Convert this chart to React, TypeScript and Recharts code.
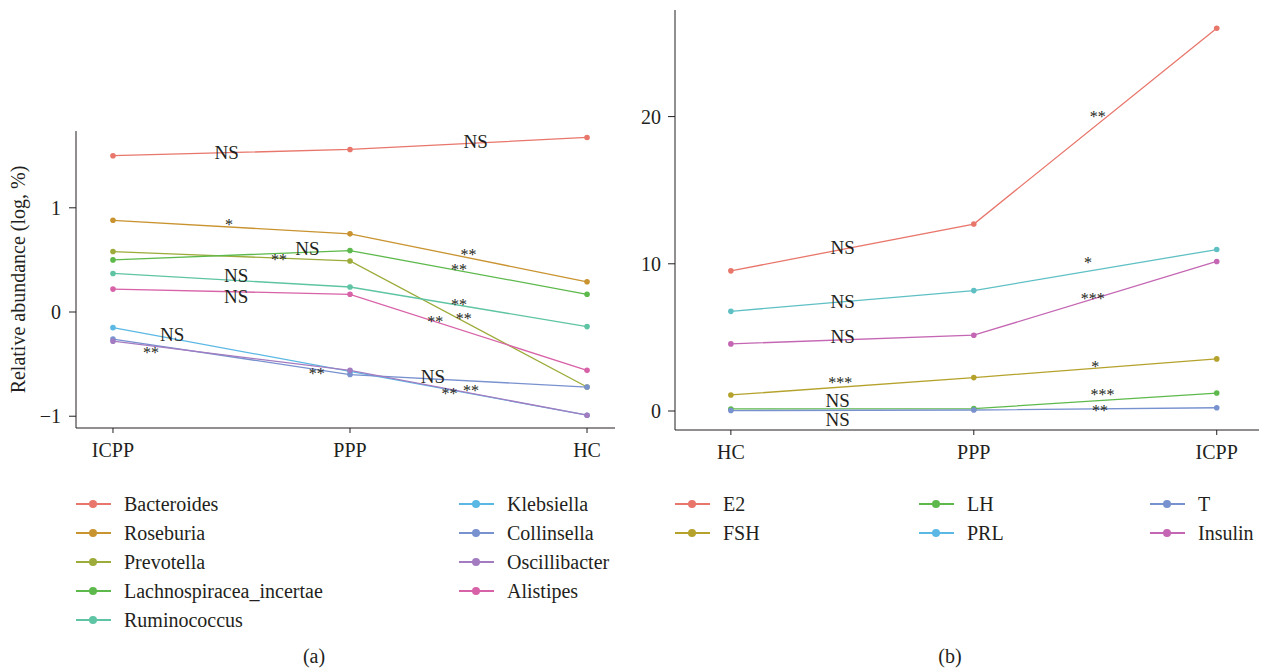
import React from 'react'
import { LineChart, Line, XAxis, YAxis, ReferenceDot } from 'recharts'

// panel (a): gut genera, relative abundance (log, %)
const groupsA = ['ICPP', 'PPP', 'HC']
const namesA = [
  'Bacteroides', 'Roseburia', 'Prevotella', 'Lachnospiracea_incertae', 'Ruminococcus',
  'Klebsiella', 'Collinsella', 'Oscillibacter', 'Alistipes',
]
const bacteroides = [1.5, 1.56, 1.675]
const roseburia = [0.88, 0.75, 0.29]
const prevotella = [0.58, 0.49, -0.72]
const lachnospiracea = [0.5, 0.59, 0.17]
const ruminococcus = [0.37, 0.24, -0.14]
const klebsiella = [-0.15, -0.57, -0.99]
const collinsella = [-0.26, -0.6, -0.72]
const oscillibacter = [-0.28, -0.56, -0.99]
const alistipes = [0.22, 0.17, -0.56]
const valuesA = [bacteroides, roseburia, prevotella, lachnospiracea, ruminococcus, klebsiella, collinsella, oscillibacter, alistipes]
const colorsA = ['#e8766b', '#c99330', '#9dab3a', '#5db94b', '#5ec4a3', '#5bb8e4', '#7891cf', '#a37bc0', '#d862a8']

// significance marks, placed between groups (x in group index units)
const sigA = [
  { x: 0.48, y: 1.53, t: 'NS' }, { x: 1.53, y: 1.63, t: 'NS' },
  { x: 0.49, y: 0.86, t: '*' }, { x: 0.82, y: 0.61, t: 'NS' }, { x: 0.7, y: 0.53, t: '**' },
  { x: 0.52, y: 0.35, t: 'NS' }, { x: 0.52, y: 0.15, t: 'NS' },
  { x: 0.25, y: -0.22, t: 'NS' }, { x: 0.16, y: -0.36, t: '**' }, { x: 0.86, y: -0.57, t: '**' },
  { x: 1.5, y: 0.58, t: '**' }, { x: 1.46, y: 0.43, t: '**' }, { x: 1.46, y: 0.1, t: '**' },
  { x: 1.36, y: -0.07, t: '**' }, { x: 1.48, y: -0.04, t: '**' },
  { x: 1.35, y: -0.62, t: 'NS' }, { x: 1.42, y: -0.76, t: '**' }, { x: 1.51, y: -0.73, t: '**' },
]

// panel (b): hormones
const groupsB = ['HC', 'PPP', 'ICPP']
const namesB = ['E2', 'FSH', 'LH', 'PRL', 'T', 'Insulin']
const e2 = [9.52, 12.7, 26.0]
const fsh = [1.09, 2.27, 3.54]
const lh = [0.14, 0.16, 1.22]
const prl = [6.77, 8.18, 10.97]
const testo = [0.03, 0.07, 0.22]
const insulin = [4.56, 5.15, 10.16]
const valuesB = [e2, fsh, lh, prl, testo, insulin]
const colorsB = ['#e8766b', '#b5a22c', '#5db94b', '#5fc0c4', '#7891cf', '#c466b3']
const legendColorsB = ['#e8766b', '#b5a22c', '#5db94b', '#5bb8e4', '#7891cf', '#c466b3']

const sigB = [
  { x: 0.46, y: 11.07, t: 'NS' }, { x: 0.46, y: 7.4, t: 'NS' }, { x: 0.46, y: 5.03, t: 'NS' },
  { x: 0.45, y: 2.12, t: '***' }, { x: 0.44, y: 0.7, t: 'NS' }, { x: 0.44, y: -0.6, t: 'NS' },
  { x: 1.51, y: 20.2, t: '**' }, { x: 1.47, y: 10.25, t: '*' }, { x: 1.49, y: 7.8, t: '***' },
  { x: 1.5, y: 3.2, t: '*' }, { x: 1.53, y: 1.32, t: '***' }, { x: 1.52, y: 0.2, t: '**' },
]

const FONT = '"Liberation Serif", "DejaVu Serif", serif'
const INK = '#231f20'

function buildRows(groups: string[], names: string[], values: number[][]) {
  return groups.map((_, i) => {
    const row: Record<string, number> = { x: i }
    names.forEach((n, k) => { row[n] = values[k][i] })
    return row
  })
}

const rowsA = buildRows(groupsA, namesA, valuesA)
const rowsB = buildRows(groupsB, namesB, valuesB)

const minus = (v: number) => (v < 0 ? '\u2212' + Math.abs(v) : String(v))

function SigMark(props: any) {
  const { cx, cy, t } = props
  const isNS = t === 'NS'
  return (
    <text
      x={cx}
      y={cy + (isNS ? 6.3 : 8)}
      textAnchor="middle"
      fontFamily={FONT}
      fontSize={isNS ? 19 : 16}
      fill={INK}
    >
      {t}
    </text>
  )
}

const tickStyle = { fontFamily: FONT, fontSize: 20, fill: INK }

function LegendItem({ name, color, left, top }: { name: string; color: string; left: number; top: number }) {
  return (
    <div style={{ position: 'absolute', left, top: top - 12, height: 24, display: 'flex', alignItems: 'center' }}>
      <svg width={36} height={24} style={{ display: 'block' }}>
        <line x1={0} y1={12} x2={35} y2={12} stroke={color} strokeWidth={1.8} />
        <circle cx={17} cy={12} r={4} fill={color} />
      </svg>
      <span style={{ marginLeft: 12, fontFamily: FONT, fontSize: 20, color: INK, whiteSpace: 'nowrap' }}>{name}</span>
    </div>
  )
}

export default function App() {
  return (
    <div style={{ position: 'absolute', left: 0, top: 0, width: 1269, height: 671, background: '#fff', overflow: 'hidden' }}>
      <div style={{ position: 'absolute', left: 0, top: 0 }}>
        <LineChart width={640} height={480} data={rowsA} margin={{ top: 131, right: 25, bottom: 12, left: 0 }}>
          <XAxis
            dataKey="x"
            type="number"
            domain={[-0.156, 2.118]}
            ticks={[0, 1, 2]}
            tickFormatter={(i: number) => groupsA[i]}
            height={40}
            tick={tickStyle}
            tickSize={5}
            tickMargin={10}
            stroke={INK}
            allowDataOverflow
          />
          <YAxis
            type="number"
            domain={[-1.113, 1.737]}
            ticks={[-1, 0, 1]}
            tickFormatter={minus}
            width={76}
            tick={tickStyle}
            tickSize={7}
            tickMargin={8}
            stroke={INK}
            allowDataOverflow
            label={{
              content: (p: any) => {
                const vb = p.viewBox || {}
                const cx = 18
                const cy = (vb.y || 131) + (vb.height || 297) / 2
                return (
                  <text x={cx} y={cy} transform={`rotate(-90 ${cx} ${cy})`} textAnchor="middle"
                    dominantBaseline="central" fontFamily={FONT} fontSize={20} fill={INK}>
                    Relative abundance (log, %)
                  </text>
                )
              },
            }}
          />
          {namesA.map((n, k) => (
            <Line
              key={n}
              dataKey={n}
              stroke={colorsA[k]}
              strokeWidth={1.3}
              dot={{ r: 2.8, fill: colorsA[k], stroke: 'none' }}
              activeDot={false}
              isAnimationActive={false}
            />
          ))}
          {sigA.map((s, i) => (
            <ReferenceDot key={i} x={s.x} y={s.y} r={0} ifOverflow="visible"
              shape={(p: any) => <SigMark {...p} t={s.t} />} />
          ))}
        </LineChart>
      </div>

      <div style={{ position: 'absolute', left: 640, top: 0 }}>
        <LineChart width={629} height={480} data={rowsB} margin={{ top: 10, right: 10, bottom: 10, left: 0 }}>
          <XAxis
            dataKey="x"
            type="number"
            domain={[-0.23, 2.174]}
            ticks={[0, 1, 2]}
            tickFormatter={(i: number) => groupsB[i]}
            height={40}
            tick={tickStyle}
            tickSize={5}
            tickMargin={10}
            stroke={INK}
            allowDataOverflow
          />
          <YAxis
            type="number"
            domain={[-1.29, 27.24]}
            ticks={[0, 10, 20]}
            width={35}
            tick={tickStyle}
            tickSize={7}
            tickMargin={7}
            stroke={INK}
            allowDataOverflow
          />
          {namesB.map((n, k) => (
            <Line
              key={n}
              dataKey={n}
              stroke={colorsB[k]}
              strokeWidth={1.3}
              dot={{ r: 2.8, fill: colorsB[k], stroke: 'none' }}
              activeDot={false}
              isAnimationActive={false}
            />
          ))}
          {sigB.map((s, i) => (
            <ReferenceDot key={i} x={s.x} y={s.y} r={0} ifOverflow="visible"
              shape={(p: any) => <SigMark {...p} t={s.t} />} />
          ))}
        </LineChart>
      </div>

      {/* legend (a): two columns, filled top to bottom */}
      {namesA.map((n, k) => (
        <LegendItem key={n} name={n} color={colorsA[k]}
          left={k < 5 ? 76 : 459} top={504 + (k < 5 ? k : k - 5) * 29} />
      ))}

      {/* legend (b): three columns of two */}
      {namesB.map((n, k) => (
        <LegendItem key={n} name={n} color={legendColorsB[k]}
          left={[675, 919, 1150][Math.floor(k / 2)]} top={504 + (k % 2) * 29} />
      ))}

      <div style={{ position: 'absolute', left: 294, top: 645, width: 40, textAlign: 'center', fontFamily: FONT, fontSize: 20, color: INK }}>(a)</div>
      <div style={{ position: 'absolute', left: 930, top: 645, width: 40, textAlign: 'center', fontFamily: FONT, fontSize: 20, color: INK }}>(b)</div>
    </div>
  )
}
